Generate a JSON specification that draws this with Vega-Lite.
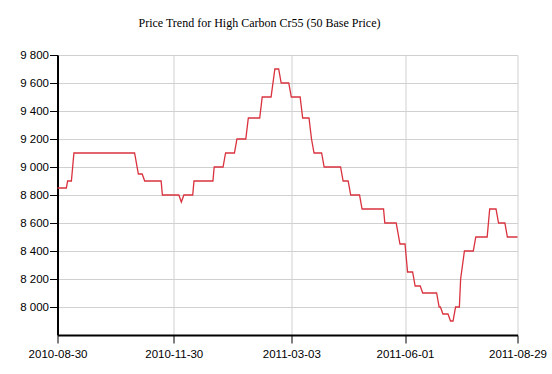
{
  "$schema": "https://vega.github.io/schema/vega-lite/v6.json",
  "width": 460,
  "height": 280,
  "autosize": {"type": "none"},
  "padding": {"left": 57.5, "top": 55, "right": 34.5, "bottom": 39},
  "background": "white",
  "title": {
    "text": "Price Trend for High Carbon Cr55 (50 Base Price)",
    "font": "Liberation Serif",
    "fontSize": 12,
    "fontWeight": "normal",
    "color": "#000000",
    "anchor": "start",
    "frame": "group",
    "dx": 81,
    "offset": 10,
    "baseline": "alphabetic"
  },
  "config": {
    "view": {"stroke": null},
    "axis": {
      "labelFont": "Liberation Sans",
      "labelFontSize": 11.5,
      "labelColor": "#000000",
      "domainColor": "#000000",
      "domainWidth": 2,
      "tickColor": "#000000",
      "tickWidth": 1,
      "tickSize": 8,
      "gridColor": "#d0d0d0",
      "gridWidth": 1,
      "title": null
    }
  },
  "data": {
    "values": [
      {"date": "2010-08-30", "price": 8850},
      {"date": "2010-09-06", "price": 8850},
      {"date": "2010-09-07", "price": 8900},
      {"date": "2010-09-10", "price": 8900},
      {"date": "2010-09-12", "price": 9100},
      {"date": "2010-10-30", "price": 9100},
      {"date": "2010-11-02", "price": 8950},
      {"date": "2010-11-05", "price": 8950},
      {"date": "2010-11-07", "price": 8900},
      {"date": "2010-11-20", "price": 8900},
      {"date": "2010-11-21", "price": 8800},
      {"date": "2010-12-04", "price": 8800},
      {"date": "2010-12-06", "price": 8750},
      {"date": "2010-12-08", "price": 8800},
      {"date": "2010-12-15", "price": 8800},
      {"date": "2010-12-16", "price": 8900},
      {"date": "2010-12-31", "price": 8900},
      {"date": "2011-01-01", "price": 9000},
      {"date": "2011-01-08", "price": 9000},
      {"date": "2011-01-10", "price": 9100},
      {"date": "2011-01-17", "price": 9100},
      {"date": "2011-01-19", "price": 9200},
      {"date": "2011-01-26", "price": 9200},
      {"date": "2011-01-28", "price": 9350},
      {"date": "2011-02-06", "price": 9350},
      {"date": "2011-02-08", "price": 9500},
      {"date": "2011-02-15", "price": 9500},
      {"date": "2011-02-18", "price": 9700},
      {"date": "2011-02-21", "price": 9700},
      {"date": "2011-02-23", "price": 9600},
      {"date": "2011-03-01", "price": 9600},
      {"date": "2011-03-03", "price": 9500},
      {"date": "2011-03-10", "price": 9500},
      {"date": "2011-03-12", "price": 9350},
      {"date": "2011-03-17", "price": 9350},
      {"date": "2011-03-19", "price": 9200},
      {"date": "2011-03-21", "price": 9100},
      {"date": "2011-03-27", "price": 9100},
      {"date": "2011-03-29", "price": 9000},
      {"date": "2011-04-11", "price": 9000},
      {"date": "2011-04-13", "price": 8900},
      {"date": "2011-04-17", "price": 8900},
      {"date": "2011-04-19", "price": 8800},
      {"date": "2011-04-26", "price": 8800},
      {"date": "2011-04-28", "price": 8700},
      {"date": "2011-05-15", "price": 8700},
      {"date": "2011-05-16", "price": 8600},
      {"date": "2011-05-25", "price": 8600},
      {"date": "2011-05-28", "price": 8450},
      {"date": "2011-06-01", "price": 8450},
      {"date": "2011-06-03", "price": 8250},
      {"date": "2011-06-07", "price": 8250},
      {"date": "2011-06-09", "price": 8150},
      {"date": "2011-06-13", "price": 8150},
      {"date": "2011-06-15", "price": 8100},
      {"date": "2011-06-26", "price": 8100},
      {"date": "2011-06-28", "price": 8000},
      {"date": "2011-06-29", "price": 8000},
      {"date": "2011-07-01", "price": 7950},
      {"date": "2011-07-05", "price": 7950},
      {"date": "2011-07-07", "price": 7900},
      {"date": "2011-07-09", "price": 7900},
      {"date": "2011-07-11", "price": 8000},
      {"date": "2011-07-14", "price": 8000},
      {"date": "2011-07-15", "price": 8200},
      {"date": "2011-07-18", "price": 8400},
      {"date": "2011-07-25", "price": 8400},
      {"date": "2011-07-27", "price": 8500},
      {"date": "2011-08-05", "price": 8500},
      {"date": "2011-08-07", "price": 8700},
      {"date": "2011-08-12", "price": 8700},
      {"date": "2011-08-14", "price": 8600},
      {"date": "2011-08-19", "price": 8600},
      {"date": "2011-08-21", "price": 8500},
      {"date": "2011-08-29", "price": 8500}
    ]
  },
  "mark": {"type": "line", "color": "#d9323e", "strokeWidth": 1.3, "interpolate": "linear"},
  "encoding": {
    "x": {
      "field": "date",
      "type": "temporal",
      "scale": {
        "type": "utc",
        "domain": [1283126400000, 1314576000000]
      },
      "axis": {
        "values": [1283126400000, 1291075200000, 1299110400000, 1306886400000, 1314576000000],
        "labelExpr": "utcFormat(datum.value, '%Y-%m-%d')",
        "labelPadding": 5,
        "labelFlush": false,
        "labelOverlap": false,
        "grid": true
      }
    },
    "y": {
      "field": "price",
      "type": "quantitative",
      "scale": {"domain": [7800, 9800], "nice": false, "zero": false},
      "axis": {
        "values": [8000, 8200, 8400, 8600, 8800, 9000, 9200, 9400, 9600, 9800],
        "labelExpr": "replace(format(datum.value, ','), ',', ' ')",
        "labelPadding": 1,
        "grid": true
      }
    }
  }
}
